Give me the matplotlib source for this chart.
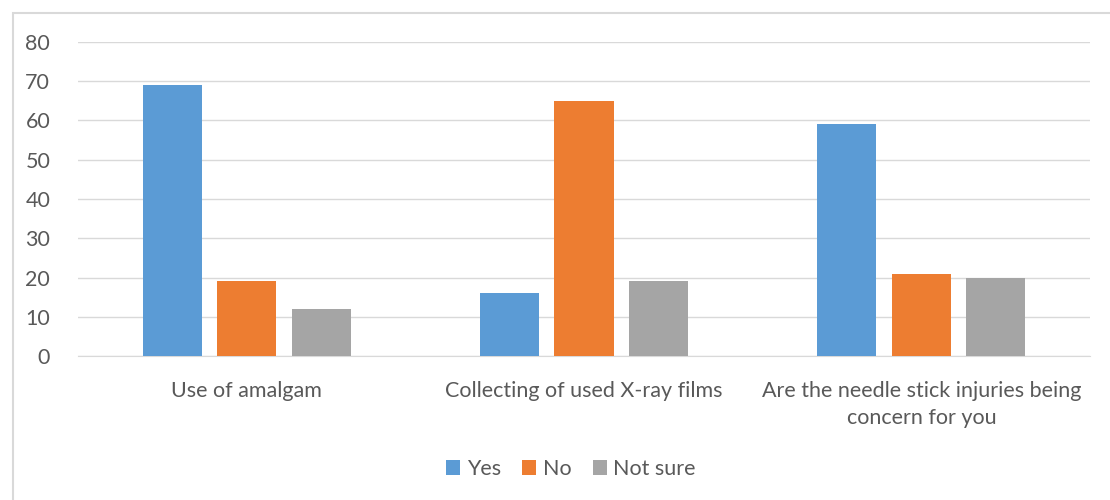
import matplotlib
matplotlib.use("Agg")
import matplotlib.pyplot as plt
from matplotlib.patches import Rectangle
import numpy as np

categories = ["Use of amalgam", "Collecting of used X-ray films",
              "Are the needle stick injuries being\nconcern for you"]
series_names = ["Yes", "No", "Not sure"]
yes_vals = [69, 16, 59]
no_vals = [19, 65, 21]
notsure_vals = [12, 19, 20]
y_ticks = [0, 10, 20, 30, 40, 50, 60, 70, 80]

colors = ["#5B9BD5", "#ED7D31", "#A5A5A5"]
plt.rcParams['font.family'] = ['Lato', 'DejaVu Sans']
FS = 15.5

fig = plt.figure(figsize=(11.1, 5.0), dpi=100)
ax = fig.add_axes([78/1110, 1-356/500, (1090-78)/1110, (356-42)/500])

x = np.arange(len(categories))
w = 0.175
step = 0.221
for i, (vals, name) in enumerate(zip([yes_vals, no_vals, notsure_vals], series_names)):
    ax.bar(x + (i-1)*step, vals, width=w, color=colors[i], label=name, zorder=3)

ax.set_xlim(-0.5, 2.5)
ax.set_ylim(0, 80)
ax.set_yticks(y_ticks)
ax.set_xticks(x)
ax.set_xticklabels(categories, fontsize=FS, color="#595959", linespacing=1.45)
ax.tick_params(axis='y', labelsize=FS, labelcolor="#595959", length=0, pad=20)
ax.tick_params(axis='x', length=0, pad=18)
ax.grid(axis='y', color="#D9D9D9", linewidth=1, zorder=0)
for s in ["top", "right", "left"]:
    ax.spines[s].set_visible(False)
ax.spines["bottom"].set_color("#D9D9D9")

leg = fig.legend(loc="center", bbox_to_anchor=(571/1110, 1-469/500), ncol=3, frameon=False,
                 fontsize=FS, handlelength=0.65, handleheight=0.65, handletextpad=0.3,
                 columnspacing=1.0, labelcolor="#595959")

fig.patches.append(Rectangle((13/1110, -0.1), 1.2, 1-13/500+0.1, transform=fig.transFigure,
                             fill=False, edgecolor="#D9D9D9", linewidth=1.5))

fig.savefig("out.png", dpi=100)
